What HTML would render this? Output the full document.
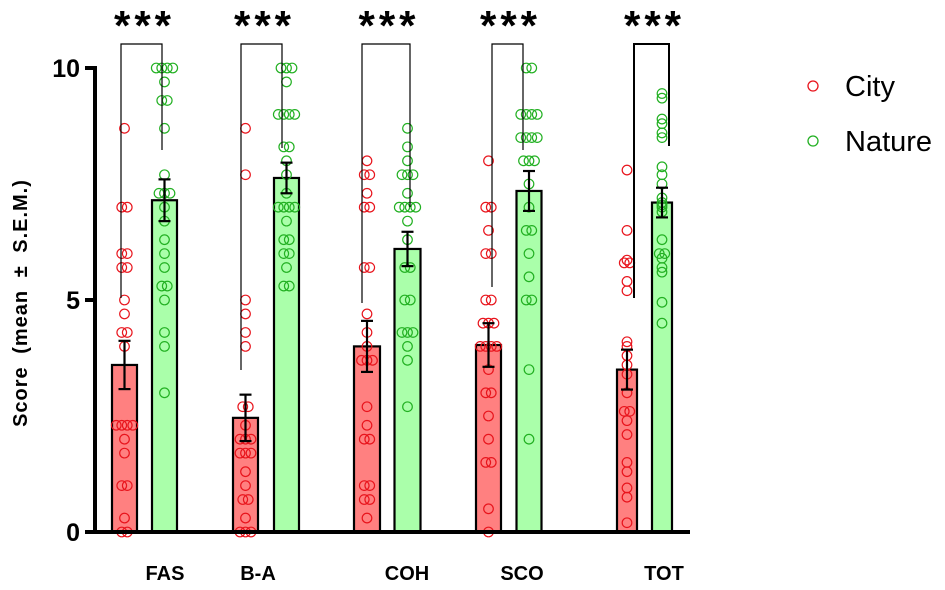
<!DOCTYPE html>
<html><head><meta charset="utf-8"><style>
body{margin:0;background:#fff;}
svg{display:block;font-family:"Liberation Sans",Arial,sans-serif;}
</style></head><body>
<svg id="chart" width="945" height="590"></svg>
<script>
const categories=["FAS","B-A","COH","SCO","TOT"];
const cityMean=[3.6,2.46,4.0,4.03,3.5];
const citySem=[0.52,0.5,0.55,0.47,0.43];
const natureMean=[7.15,7.63,6.1,7.35,7.1];
const natureSem=[0.45,0.33,0.37,0.43,0.32];
const cityPoints=[
[8.7,7,7,6,6,5.7,5.7,5,4.7,4.3,4.3,4,2.3,2.3,2.3,2.3,2,1.7,1,1,0.3,0,0],
[8.7,7.7,5,4.7,4.3,4,2.7,2.7,2.3,2,2,2,1.7,1.7,1.7,1.3,1,0.7,0.7,0.3,0,0,0],
[8,7.7,7.7,7.3,7,7,5.7,5.7,4.7,4.3,4,3.7,3.7,3.7,2.7,2.3,2,2,1,1,0.7,0.7,0.3],
[8,7,7,6.5,6,6,5,5,4.5,4.5,4.5,4,4,4,4,3.5,3,3,2.5,2,1.5,1.5,0.5,0],
[7.8,6.5,5.86,5.8,5.8,5.4,5.2,4.1,4,3.8,3.6,3.4,3,2.6,2.6,2.4,2.1,1.5,1.3,0.95,0.75,0.2]
];
const naturePoints=[
[10,10,10,10,9.7,9.3,9.3,8.7,7.7,7.3,7.3,7.3,7,6.7,6.3,6,5.7,5.3,5.3,5,4.3,4,3],
[10,10,10,9.7,9,9,9,9,8.3,8.3,8,7.7,7.3,7,7,7,7,6.7,6.3,6.3,6,6,5.7,5.3,5.3],
[8.7,8.3,8,7.7,7.7,7.7,7.3,7,7,7,7,6.7,6.3,5.7,5.7,5,5,4.3,4.3,4.3,4,3.7,2.7],
[10,10,9,9,9,9,8.5,8.5,8.5,8.5,8,8,8,7.5,7,6.5,6.5,6,5.5,5,5,3.5,2],
[9.45,9.35,8.9,8.8,8.6,8.5,7.87,7.7,7.5,7.2,7.1,7.05,7,6.9,6.3,6,6,5.9,5.7,5.6,4.95,4.5]
];
const sigLabels=["***","***","***","***","***"];
const yTicks=[0,5,10];

const NS="http://www.w3.org/2000/svg";
const svg=document.getElementById('chart');
function el(t,a,p){const e=document.createElementNS(NS,t);for(const k in a)e.setAttribute(k,a[k]);(p||svg).appendChild(e);return e;}
const y=v=>532-v*46.4;
const cityX=[124.5,245.5,367,488.5,627];
const natX=[164.5,286.5,407.5,529,662];
const barW=[25,25,26,25,20];
const labelX=[165,258,407,522,664];
const bracketL=[121,241,362,492,634];
const bracketR=[162,282,410,523,669];
const bracketBotL=[298,370,303,287,298];
const bracketBotR=[150,148,207,150,146];

categories.forEach((c,i)=>{
  [[cityMean,citySem,cityX,"#ff8080",cityPoints,"#e8141c","city"],[natureMean,natureSem,natX,"#aaffaa",naturePoints,"#22b022","nature"]].forEach(([m,s,xs,fill,pts,stroke,nm])=>{
    const b=el('rect',{x:xs[i]-barW[i]/2,y:y(m[i]),width:barW[i],height:532-y(m[i]),fill:fill,stroke:'#000','stroke-width':2.2});
    
    
    const counts={};pts[i].forEach(v=>counts[v]=(counts[v]||0)+1);
    const seen={};
    pts[i].forEach(v=>{
      const n=counts[v];const k=seen[v]=(seen[v]||0)+1;
      const dx=(k-1-(n-1)/2)*5.5;
      const p=el('circle',{cx:xs[i]+dx,cy:y(v),r:4.8,fill:'none',stroke:stroke,'stroke-width':1.2});
      
      
    });
    const g=el('g',{stroke:'#000','stroke-width':2.2,fill:'none'});
    
    
    const hi=y(m[i]+s[i]),lo=y(m[i]-s[i]);
    el('line',{x1:xs[i],x2:xs[i],y1:hi,y2:lo},g);
    el('line',{x1:xs[i]-6,x2:xs[i]+6,y1:hi,y2:hi},g);
    el('line',{x1:xs[i]-6,x2:xs[i]+6,y1:lo,y2:lo},g);
  });
  const br=el('path',{d:`M${bracketL[i]},${bracketBotL[i]}V44H${bracketR[i]}V${bracketBotR[i]}`,fill:'none',stroke:'#000','stroke-width':i==4?2:1.2});
  
  
  const st=el('text',{x:(bracketL[i]+bracketR[i])/2+3,y:40,'text-anchor':'middle','font-size':42,'font-weight':'bold','letter-spacing':4});
  st.textContent=sigLabels[i];
  
  
  const xl=el('text',{x:labelX[i],y:580,'text-anchor':'middle','font-size':20,'font-weight':'bold'});
  xl.textContent=c;
  
  
});
const ya=el('line',{x1:95,x2:95,y1:66,y2:534,stroke:'#000','stroke-width':4});


const xa=el('line',{x1:93,x2:690,y1:532,y2:532,stroke:'#000','stroke-width':4});


yTicks.forEach(t=>{
  const tk=el('line',{x1:85,x2:95,y1:y(t),y2:y(t),stroke:'#000','stroke-width':4});
  
  
  const tl=el('text',{x:80,y:y(t)+9,'text-anchor':'end','font-size':25,'font-weight':'bold'});
  tl.textContent=t;
  
  
});
const yt=el('text',{x:0,y:0,transform:'translate(27,303) rotate(-90)','text-anchor':'middle','font-size':20,'font-weight':'bold','letter-spacing':1,'word-spacing':6});
yt.textContent='Score (mean ± S.E.M.)';


[["City","#e8141c",86],["Nature","#22b022",141]].forEach(([t,c,cy])=>{
  const g=el('g',{});
  
  
  el('circle',{cx:813,cy:cy,r:5,fill:'none',stroke:c,'stroke-width':1.3},g);
  const tx=el('text',{x:845,y:cy+10,'font-size':29},g);
  tx.textContent=t;
});
</script>
</body></html>
